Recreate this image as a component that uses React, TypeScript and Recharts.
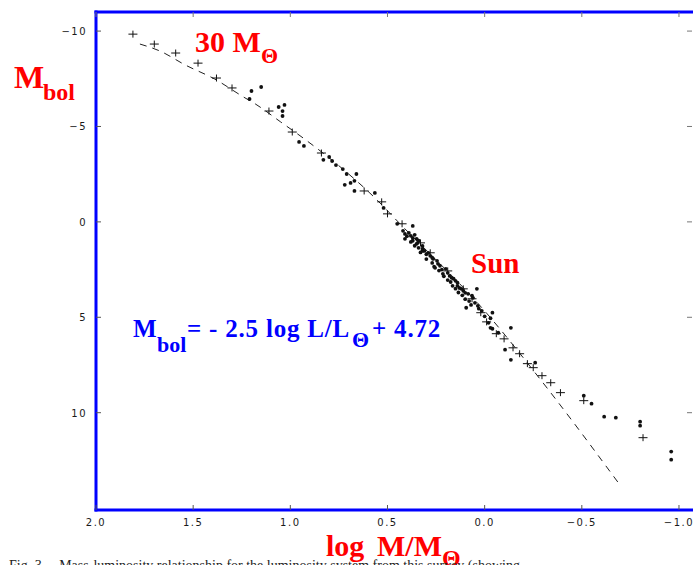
import React from 'react';
import { ScatterChart, Scatter, XAxis, YAxis } from 'recharts';

// log M/Msun vs bolometric magnitude
const crossStars: [number, number][] = [
  [1.81, -9.84], [1.70, -9.32], [1.59, -8.85], [1.475, -8.32], [1.38, -7.54],
  [1.30, -7.02], [1.11, -5.81], [0.99, -4.71], [0.84, -3.61], [0.62, -1.62],
  [0.53, -1.05], [0.50, -0.42], [0.425, 0.10], [0.33, 1.10], [0.28, 1.62],
  [0.19, 2.57], [0.11, 3.51], [0.065, 4.03], [0.02, 4.76], [-0.01, 5.24],
  [-0.06, 5.86], [-0.10, 6.13], [-0.146, 6.60], [-0.18, 6.91], [-0.22, 7.43],
  [-0.25, 7.64], [-0.295, 8.06], [-0.34, 8.43], [-0.39, 8.95], [-0.51, 9.37],
  [-0.815, 11.31],
];

const dotStars: [number, number][] = [
  [1.20, -6.86], [1.15, -7.07], [1.21, -6.44], [1.06, -6.02], [1.03, -6.13],
  [1.04, -5.81], [1.04, -5.55], [0.955, -4.19], [0.93, -3.98], [0.83, -3.25],
  [0.80, -3.40], [0.785, -3.19], [0.765, -2.98], [0.73, -2.77], [0.71, -2.51],
  [0.66, -2.51], [0.69, -2.04], [0.72, -1.94], [0.67, -2.15], [0.67, -1.62],
  [0.565, -1.52], [0.52, -0.73], [0.45, 0.10],
  [0.37, 0.21], [0.42, 0.47], [0.41, 0.63], [0.37, 0.84], [0.35, 0.89],
  [0.37, 0.99], [0.41, 0.89], [0.35, 1.15], [0.32, 1.26], [0.34, 1.36],
  [0.32, 1.52], [0.31, 1.52], [0.28, 1.78], [0.265, 1.94], [0.24, 2.20],
  [0.255, 2.41], [0.20, 2.46], [0.215, 2.72], [0.17, 2.93], [0.15, 3.09],
  [0.14, 3.35], [0.12, 3.51], [0.10, 3.72], [0.04, 3.51], [0.06, 3.98],
  [0.05, 4.24], [0.095, 4.50], [0.015, 4.66], [-0.04, 4.76], [-0.02, 5.29],
  [-0.04, 5.60], [-0.135, 5.55], [-0.07, 5.81],
  [0.39, 0.58], [0.38, 0.73], [0.36, 0.68], [0.34, 0.99], [0.32, 1.41],
  [0.29, 1.62], [0.27, 1.88], [0.245, 2.04], [0.23, 2.30], [0.19, 2.67],
  [0.18, 2.83], [0.16, 2.98], [0.14, 3.19], [0.13, 3.46], [0.11, 3.61],
  [0.085, 3.77], [0.065, 3.87], [0.035, 4.40],
  [0.40, 0.75], [0.38, 1.05], [0.36, 1.25], [0.345, 1.10], [0.33, 1.60],
  [0.30, 1.70], [0.30, 1.95], [0.27, 2.15], [0.26, 2.35], [0.235, 2.55],
  [0.22, 2.50], [0.21, 2.85], [0.19, 3.05], [0.175, 3.15], [0.165, 3.35],
  [0.15, 3.50], [0.135, 3.70], [0.115, 3.85], [0.10, 4.05], [0.08, 4.15],
  [0.07, 4.35], [0.03, 4.55], [0.00, 4.95], [-0.03, 5.05],
  [-0.03, 5.55], [-0.105, 6.70], [-0.135, 7.23], [-0.26, 7.38],
  [-0.51, 9.11], [-0.55, 9.53], [-0.615, 10.21], [-0.675, 10.26],
  [-0.80, 10.47], [-0.80, 10.68], [-0.96, 12.04], [-0.96, 12.46],
];

// dashed mass-luminosity relation
const fitCurve: [number, number][] = [
  [1.774, -9.32], [1.67, -8.95], [1.54, -8.22], [1.39, -7.49], [1.24, -6.54],
  [1.18, -6.18], [1.05, -5.24], [0.92, -4.29], [0.73, -2.77], [0.565, -1.26],
  [0.45, -0.05], [-0.013, 4.82], [-0.30, 8.43], [-0.687, 13.66],
];

const xTicks = [2.0, 1.5, 1.0, 0.5, 0.0, -0.5, -1.0];
const yTicks = [-10, -5, 0, 5, 10];

const toPoints = (rows: [number, number][]) => rows.map(([logM, mbol]) => ({ logM, mbol }));

const minus = (s: string) => s.replace('-', '\u2212');
const fmtX = (v: number) => minus(v.toFixed(1));
const fmtY = (v: number) => minus(String(v));

const RED = '#ff0000';
const BLUE = '#0000ff';
const X_DOMAIN: [number, number] = [-1.067, 2.0];
const Y_DOMAIN: [number, number] = [-11, 15.1];
const frame = { stroke: BLUE, strokeWidth: 3, strokeLinecap: 'square' as const };
const tickFont = { fontFamily: 'DejaVu Sans, sans-serif', fontSize: 10, letterSpacing: 1.5, fill: '#1a1a1a' };

const BottomTick = ({ x, y, payload }: any) => (
  <g>
    <line x1={x} x2={x} y1={y} y2={y - 5} stroke="#555" />
    <text x={x} y={y + 16} textAnchor="middle" {...tickFont}>{fmtX(payload.value)}</text>
  </g>
);

const TopTick = ({ x, y }: any) => <line x1={x} x2={x} y1={y} y2={y + 5} stroke="#777" />;

const LeftTick = ({ x, y, payload }: any) => (
  <g>
    <line x1={x} x2={x + 5} y1={y} y2={y} stroke="#555" />
    <text x={x - 9} y={y + 4} textAnchor="end" {...tickFont}>{fmtY(payload.value)}</text>
  </g>
);

const RightTick = ({ x, y }: any) => <line x1={x} x2={x - 5} y1={y} y2={y} stroke="#777" />;

const Cross = ({ cx, cy }: any) => (
  <path d={`M${cx - 4.5},${cy}H${cx + 4.5}M${cx},${cy - 3.5}V${cy + 3.5}`} stroke="#111" strokeWidth={1} />
);

const Dot = ({ cx, cy }: any) => <circle cx={cx} cy={cy} r={1.9} fill="#111" />;

const serif = 'Liberation Serif, Times New Roman, serif';

export default function App() {
  return (
    <div style={{ position: 'absolute', left: 0, top: 0, width: 693, height: 565, overflow: 'hidden', background: '#fff' }}>
      <ScatterChart width={693} height={565} margin={{ top: 11, right: 0, bottom: 54, left: 95 }}>
        <XAxis
          type="number" dataKey="logM" domain={X_DOMAIN} reversed allowDataOverflow
          ticks={xTicks} interval={0} height={1} tickSize={0} tickMargin={0}
          axisLine={frame} tickLine={false} tick={<BottomTick />}
        />
        <XAxis
          xAxisId="top" orientation="top" type="number" dataKey="logM" domain={X_DOMAIN} reversed allowDataOverflow
          ticks={xTicks} interval={0} height={1} tickSize={0} tickMargin={0}
          axisLine={frame} tickLine={false} tick={<TopTick />}
        />
        <YAxis
          type="number" dataKey="mbol" domain={Y_DOMAIN} reversed allowDataOverflow
          ticks={yTicks} interval={0} width={1} tickSize={0} tickMargin={0}
          axisLine={frame} tickLine={false} tick={<LeftTick />}
        />
        <YAxis
          yAxisId="right" orientation="right" type="number" dataKey="mbol" domain={Y_DOMAIN} reversed allowDataOverflow
          ticks={yTicks} interval={0} width={1} tickSize={0} tickMargin={0}
          axisLine={false} tickLine={false} tick={<RightTick />}
        />
        <Scatter
          data={toPoints(fitCurve)}
          line={{ stroke: '#222', strokeWidth: 1, strokeDasharray: '7 6' }}
          lineJointType="monotoneX"
          shape={() => <g />}
          isAnimationActive={false}
        />
        <Scatter data={toPoints(dotStars)} shape={<Dot />} isAnimationActive={false} />
        <Scatter data={toPoints(crossStars)} shape={<Cross />} isAnimationActive={false} />
      </ScatterChart>

      <svg width={693} height={565} style={{ position: 'absolute', left: 0, top: 0, pointerEvents: 'none' }}>
        <g fontFamily={serif} fontWeight="bold">
          <text x={14} y={88} fontSize={32} fill={RED}>
            M<tspan x={43} y={100} fontSize={24}>bol</tspan>
          </text>
          <text x={195} y={52} fontSize={30} fill={RED}>
            30 M<tspan x={261} y={63} fontSize={22}>Θ</tspan>
          </text>
          <text x={471} y={273} fontSize={29} fill={RED}>Sun</text>
          <text y={337} fontSize={25} fill={BLUE}>
            <tspan x={133}>M</tspan>
            <tspan x={157} y={352} fontSize={22}>bol</tspan>
            <tspan x={187} y={337} letterSpacing={0.8}>= - 2.5 log L/L</tspan>
            <tspan x={352} y={347} fontSize={22}>Θ</tspan>
            <tspan x={372} y={337} letterSpacing={0.8}>+ 4.72</tspan>
          </text>
          <text x={326} y={556} fontSize={30} fill={RED}>
            log<tspan x={377}>M/M</tspan>
            <tspan x={442} y={566} fontSize={24}>Θ</tspan>
          </text>
        </g>
        <text x={9} y={570} fontFamily={serif} fontSize={14} fill="#222">
          Fig. 3.—Mass-luminosity relationship for the luminosity system from this survey (showing
        </text>
      </svg>
    </div>
  );
}
